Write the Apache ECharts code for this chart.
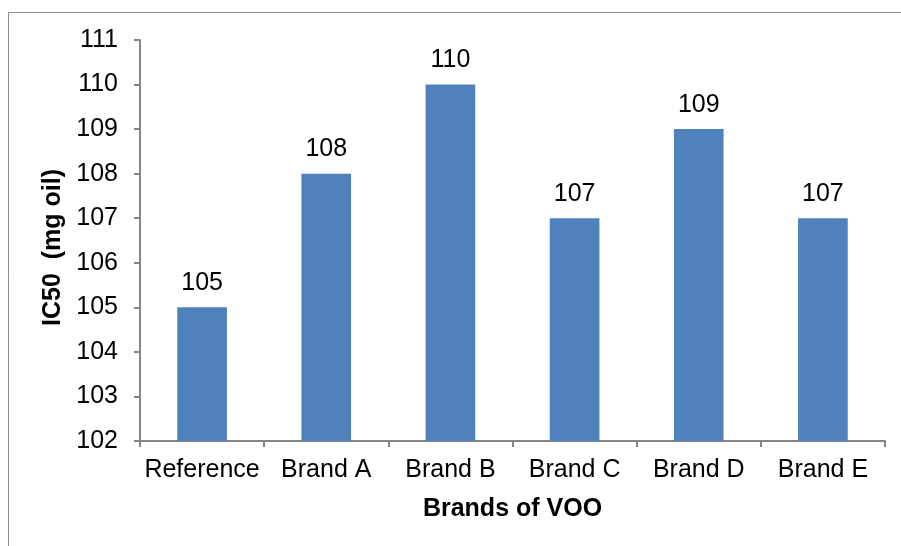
<!DOCTYPE html>
<html>
<head>
<meta charset="utf-8">
<script src="https://cdn.jsdelivr.net/npm/echarts@6/dist/echarts.min.js"></script>
<style>html,body{margin:0;padding:0;background:#fff}#c{width:901px;height:546px}</style>
</head>
<body>
<div id="c"></div>
<script>
const categories = ["Reference", "Brand A", "Brand B", "Brand C", "Brand D", "Brand E"];
const ic50Values = [105, 108, 110, 107, 109, 107];
const yTicks = { min: 102, max: 111, interval: 1 };
const xTitle = "Brands of VOO";
const yTitle = "IC50  (mg oil)";

const chart = echarts.init(document.getElementById('c'), null, { renderer: 'canvas' });
const font = '"Liberation Sans", Arial, sans-serif';
const axisGray = '#868686';
chart.setOption({
  animation: false,
  textStyle: { fontFamily: font },
  graphic: [{
    type: 'rect', silent: true, z: -1,
    shape: { x: 8.5, y: 12.5, width: 1000, height: 1000 },
    style: { fill: 'none', stroke: '#8c8c8c', lineWidth: 1 }
  }],
  grid: { left: 140, top: 40, right: 16, bottom: 105, containLabel: false },
  xAxis: {
    type: 'category',
    data: categories,
    name: xTitle,
    nameLocation: 'middle',
    nameGap: 56,
    nameTextStyle: { fontFamily: font, fontSize: 25, fontWeight: 'bold', color: '#000' },
    axisLine: { lineStyle: { color: axisGray, width: 2 } },
    axisTick: { show: true, length: 6, lineStyle: { color: axisGray, width: 2 } },
    axisLabel: { interval: 0, margin: 17, fontFamily: font, fontSize: 25, color: '#000' }
  },
  yAxis: {
    type: 'value',
    min: yTicks.min, max: yTicks.max, interval: yTicks.interval,
    name: yTitle,
    nameLocation: 'middle',
    nameRotate: 90,
    nameGap: 70,
    nameTextStyle: { fontFamily: font, fontSize: 25, fontWeight: 'bold', color: '#000', padding: [0, 14, 0, 0] },
    axisLine: { show: true, lineStyle: { color: axisGray, width: 2 } },
    axisTick: { show: true, length: 6, lineStyle: { color: axisGray, width: 2 } },
    axisLabel: { margin: 22, fontFamily: font, fontSize: 25, color: '#000' },
    splitLine: { show: false }
  },
  series: [{
    type: 'bar',
    data: ic50Values,
    barCategoryGap: '60%',
    itemStyle: { color: '#4F81BD' },
    label: { show: true, position: 'top', distance: 12, fontFamily: font, fontSize: 25, color: '#000' }
  }]
});
</script>
</body>
</html>
